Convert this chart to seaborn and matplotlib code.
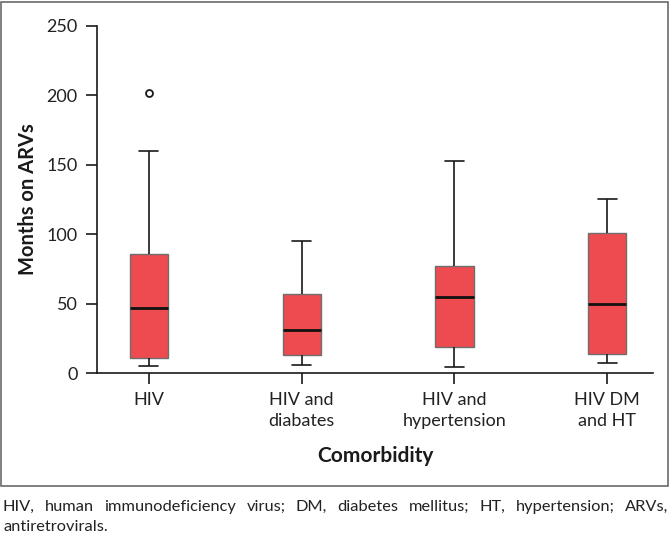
import pandas as pd
import numpy as np
import matplotlib
matplotlib.use("Agg")
import matplotlib.pyplot as plt
from matplotlib.patches import Rectangle
import seaborn as sns

# Box summaries (months on ARVs)
categories = ["HIV", "HIV and\ndiabates", "HIV and\nhypertension", "HIV DM\nand HT"]
whisker_low = [5, 6, 4.5, 7.5]
q1 = [11, 13, 19, 13.5]
median = [47, 31, 55, 50]
q3 = [86, 57, 77, 101]
whisker_high = [160, 95, 152.5, 125.5]
outlier_group = ["HIV"]
outlier_value = [202]

footnote = ("HIV, human immunodeficiency virus; DM, diabetes mellitus; HT, hypertension; ARVs,",
            "antiretrovirals.")

# five values per group -> seaborn reproduces the same quartiles/whiskers
rows = []
for i, cat in enumerate(categories):
    for v in (whisker_low[i], q1[i], median[i], q3[i], whisker_high[i]):
        rows.append({"Comorbidity": cat, "Months": v})
df = pd.DataFrame(rows)
out_df = pd.DataFrame({"Comorbidity": outlier_group, "Months": outlier_value})

sns.set_style("white")
plt.rcParams['font.family'] = ['Lato', 'DejaVu Sans']

fig = plt.figure(figsize=(6.7, 5.34), dpi=100)
ax = fig.add_axes([97 / 670, 1 - 373 / 534, 556 / 670, 347 / 534])

sns.boxplot(data=df, x="Comorbidity", y="Months", order=categories, ax=ax,
            width=0.25, color="#ED4B4F", saturation=1, linecolor="#1a1a1a",
            boxprops=dict(edgecolor="#6e6e6e", linewidth=1.0),
            medianprops=dict(color="#111111", linewidth=2.0),
            whiskerprops=dict(color="#1a1a1a", linewidth=1.2),
            capprops=dict(color="#1a1a1a", linewidth=1.2))
sns.stripplot(data=out_df, x="Comorbidity", y="Months", order=categories, ax=ax,
              jitter=False, color="white", edgecolor="#1a1a1a", linewidth=1.3, size=5)

ax.set_xlim(-0.34, 3.30)
ax.set_ylim(0, 250)
ax.set_yticks([0, 50, 100, 150, 200, 250])
sns.despine(ax=ax)
for s in ("left", "bottom"):
    ax.spines[s].set_color("#1a1a1a")
    ax.spines[s].set_linewidth(1.2)
ax.tick_params(axis="both", direction="out", length=8, width=1.2, color="#1a1a1a",
               labelsize=13, labelcolor="#222222", pad=6, left=True, bottom=True)
for lab in ax.get_xticklabels():
    lab.set_linespacing(1.35)
ax.set_xlabel("Comorbidity", fontsize=15, fontweight="bold", color="#1a1a1a", labelpad=12)
ax.set_ylabel("Months on ARVs", fontsize=14.5, fontweight="bold", color="#1a1a1a", labelpad=6)

# frame round the chart
fig.patches.append(Rectangle((1 / 670, 1 - 486 / 534), 667 / 670, 484 / 534,
                             transform=fig.transFigure, fill=False,
                             edgecolor="#6a6a6a", linewidth=1.2))

# justified footnote
r = fig.canvas.get_renderer()
W = fig.bbox.width
words = footnote[0].split()
texts = [fig.text(0, 1 - 507 / 534, w, fontsize=11.8, color="#222222", va="center") for w in words]
widths = [t.get_window_extent(r).width for t in texts]
gap = ((668 - 3) - sum(widths)) / (len(words) - 1)
x = 3
for t, w in zip(texts, widths):
    t.set_x(x / W)
    x += w + gap
fig.text(3 / W, 1 - 527 / 534, footnote[1], fontsize=11.8, color="#222222", va="center")

fig.savefig("out.png", dpi=100)
